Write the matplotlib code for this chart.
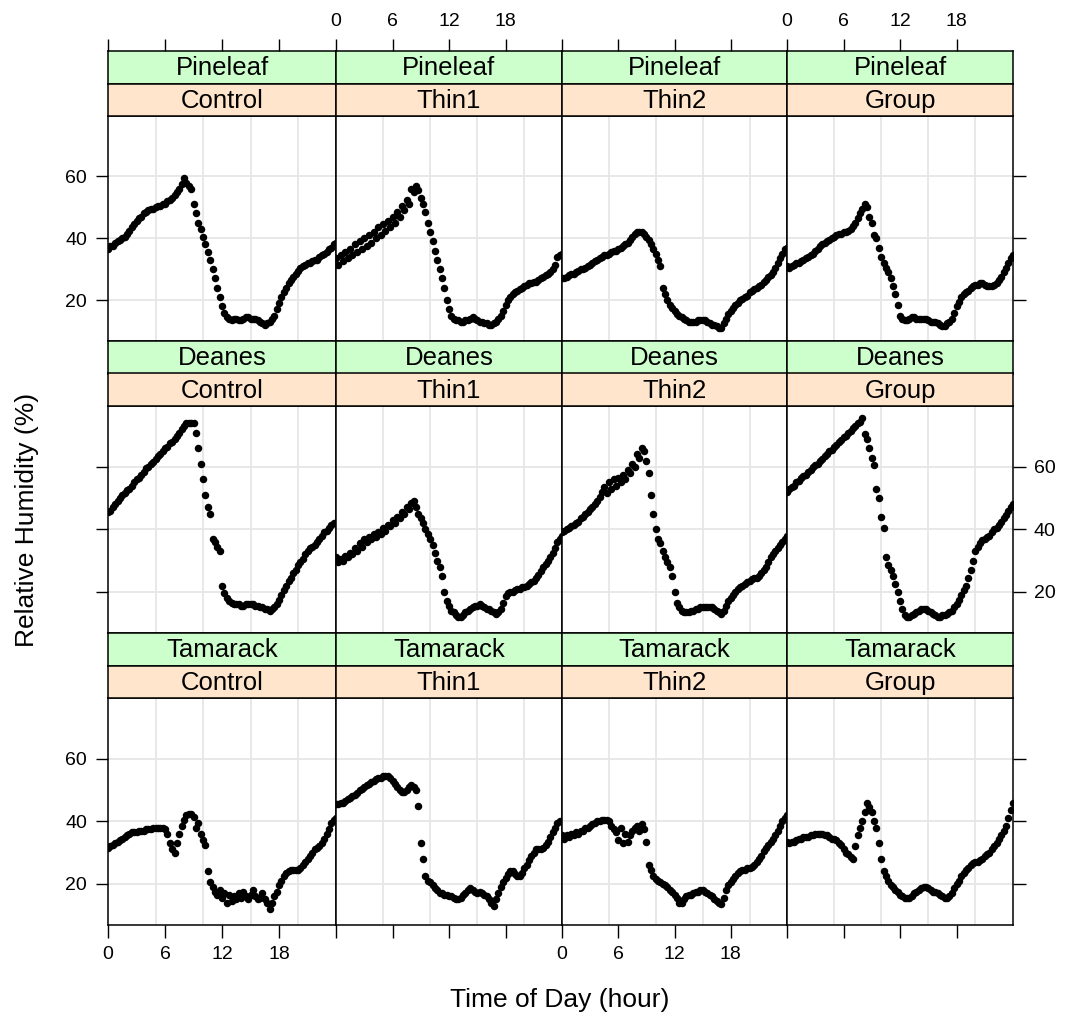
#!/usr/bin/env python3
"""
Relative humidity vs. time of day, one panel per site/treatment (lattice-style).
Saves out.png
"""
import matplotlib
matplotlib.use("Agg")
import matplotlib.pyplot as plt

plt.rcParams["font.family"] = ["Liberation Sans", "DejaVu Sans"]

locations = ["Pineleaf", "Deanes", "Tamarack"]
treatments = ["Control", "Thin1", "Thin2", "Group"]

hours = [0, 0.25, 0.5, 0.75, 1, 1.25, 1.5, 1.75, 2, 2.25, 2.5, 2.75,
         3, 3.25, 3.5, 3.75, 4, 4.25, 4.5, 4.75, 5, 5.25, 5.5, 5.75,
         6, 6.25, 6.5, 6.75, 7, 7.25, 7.5, 7.75, 8, 8.25, 8.5, 8.75,
         9, 9.25, 9.5, 9.75, 10, 10.25, 10.5, 10.75, 11, 11.25, 11.5, 11.75,
         12, 12.25, 12.5, 12.75, 13, 13.25, 13.5, 13.75, 14, 14.25, 14.5, 14.75,
         15, 15.25, 15.5, 15.75, 16, 16.25, 16.5, 16.75, 17, 17.25, 17.5, 17.75,
         18, 18.25, 18.5, 18.75, 19, 19.25, 19.5, 19.75, 20, 20.25, 20.5, 20.75,
         21, 21.25, 21.5, 21.75, 22, 22.25, 22.5, 22.75, 23, 23.25, 23.5, 23.75,
         24]

# relative humidity (%), quarter-hourly (one row = 3 h)
pineleaf_control = [36.5, 37.5, 37.5, 38.5, 39, 39.5, 40, 40.5, 41.5, 42.5, 43.5, 44.5,
                    45.5, 46.5, 47, 48, 48.5, 49, 49.5, 49.5, 50, 50.5, 50.5, 51,
                    51.2, 52, 52.5, 53, 54, 55, 56, 57.5, 59.5, 58, 57, 56,
                    51, 48, 45, 43, 40.5, 38, 35.5, 33, 30, 27, 24, 21,
                    18, 16, 14.5, 14, 13.5, 14, 14, 13.5, 13.5, 14, 14.5, 14.5,
                    14, 14, 14, 13.5, 13, 12.5, 12, 12.5, 13, 14, 15, 17,
                    19, 21, 22.5, 24, 25.5, 26.5, 27.5, 28.5, 29.5, 30.5, 31, 31.5,
                    32, 32, 32.5, 33, 33, 34, 34.5, 35, 35.5, 36.5, 37, 38,
                    38.5]
pineleaf_thin1 = [33.5, 31.5, 34.5, 32.5, 35.5, 33.5, 36.5, 34.5, 38, 35.5, 39, 36.5,
                  40, 37.5, 41, 38.5, 42, 40, 43.5, 41, 44.5, 42.5, 45.5, 43.5,
                  47, 45, 48.5, 47, 50.5, 49, 52.5, 51, 56, 55, 57, 55.5,
                  53, 51, 48.5, 45, 42, 39, 36, 33, 30, 27, 24, 20,
                  17, 15, 14, 13.5, 13.5, 13, 13, 13.5, 13.5, 14, 14.5, 14,
                  13.5, 13, 13, 12.5, 12.5, 12, 12, 12.5, 13, 14, 15, 16.5,
                  18.5, 20, 21, 22, 22.5, 23, 23.5, 24, 24.5, 25, 25.5, 25.5,
                  26, 26, 26.5, 27, 27.5, 28, 28.5, 29, 30, 31.5, 34, 34.5,
                  35]
pineleaf_thin2 = [27, 27, 27.5, 28, 28.5, 28.5, 29, 29.5, 30, 30, 30.5, 31,
                  31.5, 32, 32.5, 33, 33.5, 34, 34.5, 34.5, 35, 35.5, 36, 36,
                  36.5, 37, 37.5, 38, 38.5, 39.5, 40.5, 41.5, 42, 42, 42, 41.5,
                  40.5, 39.5, 38, 36.5, 35, 33, 31, 24, 22, 20, 18.5, 17.5,
                  16.5, 15.5, 15, 14.5, 14, 13.5, 13, 13, 13, 13, 13.5, 13.5,
                  13.5, 13.5, 13, 12.5, 12, 12, 11.5, 11, 11, 12.5, 14, 15.5,
                  16.5, 17.5, 18.5, 19, 20, 20.5, 21, 21.5, 22.5, 23, 23.5, 24,
                  24.5, 25, 26, 26.5, 27.5, 28, 29, 30.5, 32, 33.5, 35, 36.5,
                  37]
pineleaf_group = [31, 30.5, 31, 31.5, 32, 32, 32.5, 33, 33.5, 34, 34.5, 35,
                  36, 36.5, 37.5, 38, 38.5, 39, 39.5, 40, 40.5, 41, 41.5, 41.5,
                  42, 42, 42.5, 43, 44, 45, 46.5, 48, 49.5, 51, 50, 47,
                  45, 41, 40, 37, 34, 32, 30.5, 29, 27, 24.5, 22, 18.5,
                  15, 14, 13.5, 13.5, 14, 14.5, 14.5, 14, 14, 14, 14, 14,
                  13.5, 13, 13, 13, 12.5, 12, 11.5, 11.5, 12.5, 13, 14, 16,
                  18, 19.5, 21, 22, 22.5, 23, 24, 24.5, 25, 25, 25.5, 25.5,
                  25, 24.5, 24.5, 24.5, 25, 25.5, 26.5, 27.5, 29, 30.5, 32, 33.5,
                  34.5]
deanes_control = [45.5, 46, 47, 48, 49, 50, 51, 51.5, 52.5, 53, 54, 55,
                  56, 56.5, 57.5, 58.5, 59.5, 60, 61, 61.5, 62.5, 63.5, 64, 65,
                  66, 66.5, 67.5, 68, 69, 70, 71, 72, 73, 74, 74, 74,
                  74, 71, 66, 61, 56, 51, 47, 45, 37, 36, 34.5, 33,
                  22, 19.5, 18, 17, 16.5, 16, 16, 16, 15.5, 15.5, 16, 16,
                  16, 16, 15.5, 15.5, 15, 15, 14.5, 14.5, 14, 14.5, 15, 16,
                  17.5, 19, 20.5, 22, 23.5, 24.5, 26, 27, 28.5, 29.5, 30.5, 32,
                  33, 34, 34.5, 35, 36, 37, 38, 39, 39.5, 40.5, 41.5, 42,
                  42]
deanes_thin1 = [31, 29.5, 30.5, 30, 31.5, 31, 32.5, 32, 34, 33, 35.5, 34.5,
                37, 36, 37.5, 37, 38.5, 37.5, 39, 38.5, 40.5, 39.5, 41.5, 41,
                43, 42, 44, 43.5, 45.5, 45, 47, 46.5, 48.5, 49, 47, 45,
                43.5, 42, 40, 38.5, 37, 35, 32.5, 30, 28, 25, 20, 17,
                15.5, 14, 13.5, 12.5, 12, 12, 12.5, 13.5, 14, 14.5, 15, 15.5,
                15.5, 16, 15.5, 15, 14.5, 14.5, 14, 13.5, 13, 13.5, 14.5, 16.5,
                18.5, 19.5, 20, 20, 20.5, 21, 21, 21.5, 21.5, 22, 22.5, 23,
                23.5, 24.5, 25.5, 26.5, 28, 29, 30, 31, 32.5, 34, 36, 37,
                38]
deanes_thin2 = [39, 39.5, 40, 40.5, 41, 41.5, 42, 42.5, 43.5, 44, 45, 45.5,
                46.5, 47, 48, 49, 50.5, 52, 53.5, 51.5, 55, 53, 56, 54,
                56.5, 55, 57.5, 56, 59, 58, 61, 60, 64, 63, 66, 65,
                62, 58, 51, 45, 40, 37, 35.5, 33, 31, 29.5, 28, 25,
                20, 16.5, 15, 14, 13.5, 13.5, 13.5, 14, 14, 14.5, 14.5, 15,
                15, 15, 15, 15, 15, 14.5, 14, 13.5, 13, 14, 15.5, 17,
                18, 19, 20, 21, 21.5, 22, 22.5, 23, 23.5, 24, 24.5, 24.5,
                25, 26, 27, 28, 29.5, 31, 32, 33, 34, 35, 36, 37,
                38]
deanes_group = [52, 53, 53.5, 54, 55, 55.5, 56.5, 57, 57.5, 58.5, 59, 60,
                60.5, 61, 62, 62.5, 63.5, 64, 65, 65.5, 66.5, 67, 68, 68.5,
                69.5, 70, 71, 71.5, 72.5, 73, 74, 74.5, 75.5, 70.5, 69, 66,
                63, 60.5, 53, 50, 44, 40.5, 31, 28.5, 27, 25, 22.5, 20,
                17, 14.5, 12.5, 12, 12, 12.5, 13, 13.5, 14, 14.5, 14.5, 14.5,
                14, 13.5, 13, 12.5, 12, 12, 12.5, 12.5, 13, 13.5, 14, 15,
                16, 17.5, 19, 20.5, 22, 24.5, 27, 30, 33, 34.5, 35.5, 36.5,
                37, 37.5, 38, 39, 40, 40.5, 41.5, 42.5, 43.5, 44.5, 46, 47,
                48]
tamarack_control = [31.5, 32, 32.5, 33, 33.5, 34, 34.5, 35, 35.5, 36, 36.5, 36.5,
                    36.5, 37, 37, 37, 37.5, 37.5, 37.5, 38, 38, 38, 38, 38,
                    37.5, 36, 33, 31, 30, 33, 36, 38.5, 40.5, 42, 42.5, 42.5,
                    41.5, 38, 39.5, 36, 34, 32.5, 24, 20.5, 19, 17.5, 16.5, 18,
                    15.5, 17, 14, 16.5, 14.5, 16, 15, 17, 15.5, 17.5, 16, 15,
                    16.5, 18, 16, 15, 15.5, 17, 15, 14, 12, 14, 16, 17.5,
                    19.5, 21, 22.5, 23.5, 24, 24.5, 24.5, 24.5, 24.5, 25, 26, 27,
                    28, 29, 30, 31, 31.5, 32, 33, 34.5, 36, 37.5, 39.5, 40.5,
                    41]
tamarack_thin1 = [45.5, 45.5, 46, 46, 46.5, 47, 47.5, 48, 48.5, 49, 50, 50.5,
                  51, 51.5, 52, 52.5, 53, 53.5, 54, 54, 54.5, 54.5, 54.5, 54,
                  53, 52, 51, 50, 49.5, 49.5, 50, 51, 51.5, 51, 50, 45,
                  33, 28, 22.5, 21, 20.5, 19.5, 18.5, 18, 17, 17, 16.5, 16.5,
                  16, 16, 15.5, 15, 15, 15.5, 16.5, 17, 18, 18.5, 18, 17.5,
                  17, 17.5, 17, 16.5, 16, 15, 14, 13, 15, 17, 19, 20.5,
                  22, 23, 24, 24, 23, 22.5, 22.5, 23.5, 25, 26, 27.5, 29,
                  30, 31, 31, 31, 31.5, 32.5, 33.5, 35, 36.5, 38, 39.5, 40,
                  40]
tamarack_thin2 = [35.5, 34.5, 35.5, 35, 36, 35.5, 36.5, 36, 37, 37, 38, 38,
                  38.5, 39, 39.5, 40, 40, 40.5, 40.5, 40.5, 40, 38.5, 37.5, 36.5,
                  34, 38, 33, 36, 33.5, 35.5, 37, 38, 38.5, 37, 39, 37.5,
                  33.5, 26, 24.5, 22.5, 21.5, 21, 20.5, 20, 19.5, 19, 18, 17.5,
                  16.5, 15.5, 14, 14, 15, 16, 16.5, 16.5, 17, 17.5, 17.5, 18,
                  18, 17.5, 17, 16.5, 16, 15, 14.5, 14, 13.5, 15.5, 18, 19.5,
                  20.5, 21.5, 22.5, 23.5, 24, 24.5, 24.5, 25, 25, 25.5, 26, 27,
                  28, 29, 30.5, 31.5, 32.5, 33.5, 34.5, 35.5, 37, 38.5, 40, 41,
                  42]
tamarack_group = [33.5, 33, 33.5, 33.5, 34, 34.5, 34.5, 35, 35, 35, 35.5, 35.5,
                  36, 36, 36, 36, 35.5, 35.5, 35, 34.5, 34.5, 34, 33, 32.5,
                  31, 30, 29.5, 28.5, 28, 32, 35.5, 38, 40, 43, 46, 44.5,
                  43, 40, 38, 33, 28, 24, 22.5, 21, 19.5, 19, 18, 17.5,
                  16.5, 16, 15.5, 15.5, 15.5, 16, 17, 17.5, 18, 18.5, 19, 19,
                  18.5, 18, 17.5, 17.5, 17, 16.5, 16, 15.5, 15.5, 16, 17, 18.5,
                  20, 21, 22.5, 23.5, 24.5, 25, 26, 26.5, 27, 27, 27.5, 28,
                  29, 29.5, 30, 31, 32, 33, 34.5, 35.5, 37, 38.5, 41, 43.5,
                  46]

rh = {
    ("Pineleaf", "Control"): pineleaf_control, ("Pineleaf", "Thin1"): pineleaf_thin1,
    ("Pineleaf", "Thin2"): pineleaf_thin2, ("Pineleaf", "Group"): pineleaf_group,
    ("Deanes", "Control"): deanes_control, ("Deanes", "Thin1"): deanes_thin1,
    ("Deanes", "Thin2"): deanes_thin2, ("Deanes", "Group"): deanes_group,
    ("Tamarack", "Control"): tamarack_control, ("Tamarack", "Thin1"): tamarack_thin1,
    ("Tamarack", "Thin2"): tamarack_thin2, ("Tamarack", "Group"): tamarack_group,
}

x_ticks = [0, 6, 12, 18]
y_ticks = [20, 40, 60]
x_grid = [5, 10, 15, 20]

# layout in pixels
W, H = 1065, 1017
col_edges = [108, 336, 562, 787, 1013]
panel_top = [116, 406, 698]
panel_bot = [341, 633, 925]
strip_h = 32.5

STRIP_UPPER = "#ccffcc"
STRIP_LOWER = "#ffe5cc"
GRID = "#e6e6e6"


def rect(l, t, r, b):
    return [l / W, 1 - b / H, (r - l) / W, (b - t) / H]


fig = plt.figure(figsize=(W / 100, H / 100), dpi=100)

for i, loc in enumerate(locations):
    for j, trt in enumerate(treatments):
        l, r = col_edges[j], col_edges[j + 1]
        t, b = panel_top[i], panel_bot[i]

        ax = fig.add_axes(rect(l, t, r, b))
        ax.set_xlim(0, 24)
        ax.set_ylim(6.8, 79.5)
        for gx in x_grid:
            ax.axvline(gx, color=GRID, lw=1.3, zorder=0)
        for gy in y_ticks:
            ax.axhline(gy, color=GRID, lw=1.3, zorder=0)
        ax.plot(hours, rh[(loc, trt)], "o", color="black", ms=5.4, mew=0, zorder=3)
        for s in ax.spines.values():
            s.set_linewidth(1.1)
        ax.tick_params(direction="out", length=9, width=1.0, labelsize=14, pad=6)

        # x ticks only on bottom row, labels alternating
        if i == 2:
            ax.set_xticks(x_ticks)
            if j % 2 == 1:
                ax.set_xticklabels([])
        else:
            ax.set_xticks([])

        # y ticks on outer columns, labels alternating by row
        if j == 0 or j == 3:
            ax.set_yticks(y_ticks)
            if j == 3:
                ax.yaxis.tick_right()
            show = (i != 1) if j == 0 else (i == 1)
            ax.tick_params(axis="y", labelleft=(j == 0 and show), labelright=(j == 3 and show))
        else:
            ax.set_yticks([])

        # strips: location above, treatment below
        for k, (txt, col) in enumerate([(loc, STRIP_UPPER), (trt, STRIP_LOWER)]):
            st = t - (2 - k) * strip_h
            sax = fig.add_axes(rect(l, st, r, st + strip_h))
            sax.set_facecolor(col)
            sax.set_xlim(0, 24)
            sax.set_ylim(0, 1)
            for s in sax.spines.values():
                s.set_linewidth(1.1)
            sax.text(12, 0.47, txt, ha="center", va="center", fontsize=18.5)
            sax.set_yticks([])
            if i == 0 and k == 0:
                sax.xaxis.tick_top()
                sax.set_xticks(x_ticks)
                sax.tick_params(axis="x", direction="out", length=9, width=1.0,
                                labelsize=14, pad=6)
                if j % 2 == 0:
                    sax.set_xticklabels([])
            else:
                sax.set_xticks([])

fig.text(560 / W, 1 - 1000 / H, "Time of Day (hour)", ha="center", va="center", fontsize=19)
fig.text(27 / W, 1 - 520 / H, "Relative Humidity (%)", ha="center", va="center",
         rotation=90, fontsize=19)

fig.savefig("out.png", dpi=100)
